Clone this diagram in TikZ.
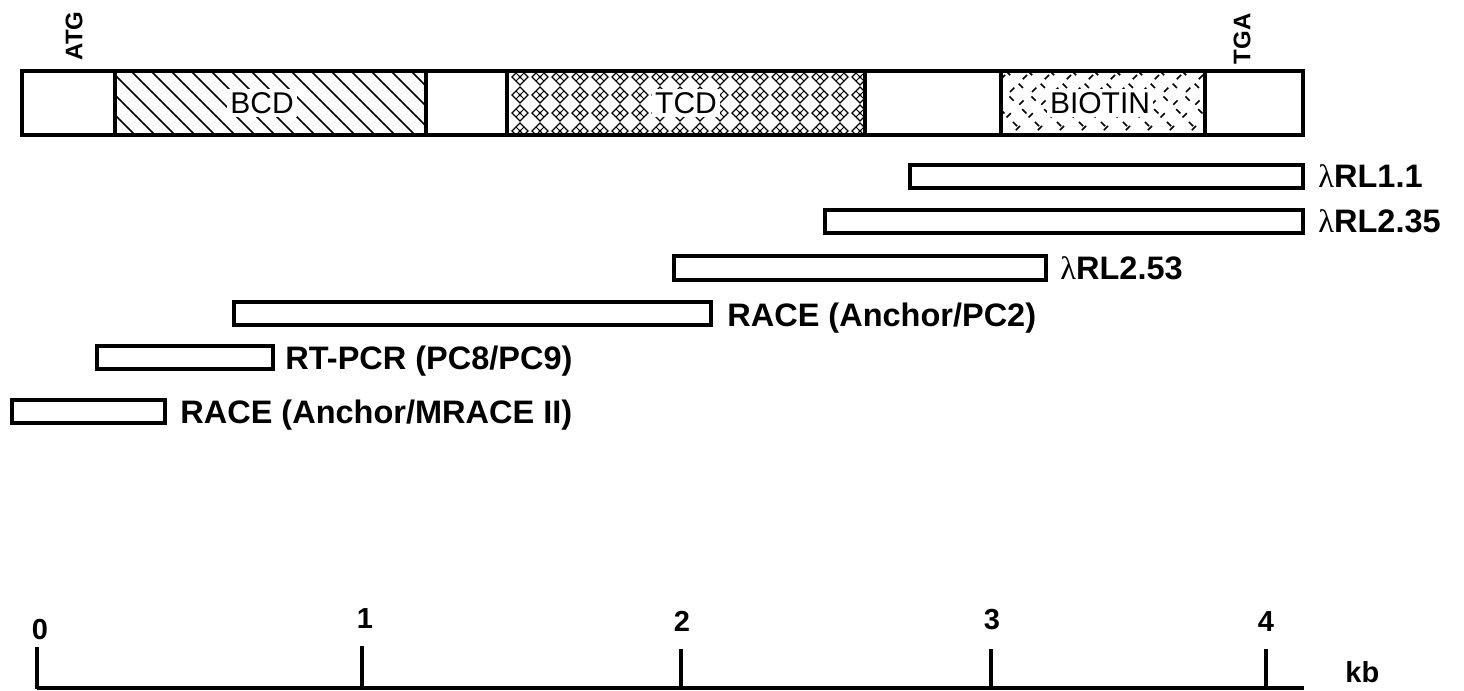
\documentclass[tikz,border=0pt]{standalone}
\usepackage{fontspec}
\setmainfont{Liberation Sans}
\newfontfamily\lamfont{Liberation Serif}
\begin{document}
\begin{tikzpicture}[x=0.5pt,y=-0.5pt,
  barline/.style={line width=2pt},
  clonebox/.style={line width=1.8pt},
  hatch/.style={line width=0.75pt},
  dhatch/.style={line width=0.8pt,dash pattern=on 3pt off 6pt},
  lbl/.style={font=\fontsize{16.25}{19}\selectfont\bfseries,anchor=base west,inner sep=0pt},
  domlbl/.style={font=\fontsize{15}{18}\selectfont,fill=white,inner sep=1.5pt},
  codon/.style={font=\fontsize{12}{14}\selectfont\bfseries,rotate=90,inner sep=0pt},
  scalelbl/.style={font=\fontsize{14.5}{17}\selectfont\bfseries,anchor=base,inner sep=0pt},
  tcddiam/.pic={
    \draw[line width=0.55pt] (-8,0) -- (0,-8) -- (8,0) -- (0,8) -- cycle;
    \draw[line width=0.4pt] (-4,-4) -- (4,4) (4,-4) -- (-4,4);
    \fill (0,0) circle (1.6);
  }]
\useasboundingbox (0,0) rectangle (1464,691);

% ---- BCD hatching
\begin{scope}
  \clip (115,71) rectangle (426,135);
  \foreach \i in {0,...,19} \draw[hatch] ({51+\i*20},71) -- ++(64,64);
\end{scope}
% ---- TCD diamonds
\begin{scope}
  \clip (507,71) rectangle (865,135);
  \foreach \cx in {520,540,...,860}
    \foreach \cy in {77,95,113,131}
      \pic at (\cx,\cy) {tcddiam};
\end{scope}
% ---- BIOTIN dashes
\begin{scope}
  \clip (1001,71) rectangle (1205,135);
  \foreach \i in {0,...,14} {
    \draw[dhatch] ({940+\i*22},71) -- ++(64,64);
    \draw[dhatch] ({1005+\i*22},75) -- ++(-64,64);
  }
\end{scope}

% ---- main bar
\draw[barline] (22,71) rectangle (1303,135);
\foreach \x in {115,426,507,865,1001,1205} \draw[barline] (\x,71) -- (\x,135);

\node[domlbl] (bcd) at (262,103) {BCD};
\node[domlbl] (tcd) at (686,103) {TCD};
\node[domlbl] (biotin) at (1100,103) {BIOTIN};

\node[codon] (atg) at (74,36) {ATG};
\node[codon] (tga) at (1242,39) {TGA};

% ---- clones
\draw[clonebox] (910,165) rectangle (1303,188);
\node[lbl] (rl11) at (1318,187) {{\lamfont\mdseries λ}RL1.1};
\draw[clonebox] (825,210) rectangle (1303,233);
\node[lbl] (rl235) at (1318,232) {{\lamfont\mdseries λ}RL2.35};
\draw[clonebox] (674,256) rectangle (1046,280);
\node[lbl] (rl253) at (1060,279) {{\lamfont\mdseries λ}RL2.53};
\draw[clonebox] (234,302) rectangle (711,325);
\node[lbl] (racepc2) at (727,326) {RACE (Anchor/PC2)};
\draw[clonebox] (97,346) rectangle (273,369);
\node[lbl] (rtpcr) at (285,369) {RT-PCR (PC8/PC9)};
\draw[clonebox] (12,400) rectangle (165,423);
\node[lbl] (racem) at (180,423) {RACE (Anchor/MRACE II)};

% ---- scale
\draw[line width=2pt] (37,688) -- (1304,688);
\draw[line width=1.8pt] (37,689) -- (37,647);
\draw[line width=1.8pt] (362,689) -- (362,646);
\draw[line width=1.8pt] (681,689) -- (681,649);
\draw[line width=1.8pt] (991,689) -- (991,649);
\draw[line width=1.8pt] (1266,689) -- (1266,649);
\node[scalelbl] (s0) at (40,639) {0};
\node[scalelbl] (s1) at (365,628) {1};
\node[scalelbl] (s2) at (682,631) {2};
\node[scalelbl] (s3) at (992,629) {3};
\node[scalelbl] (s4) at (1266,631) {4};
\node[scalelbl,anchor=base west] (kb) at (1345,682) {kb};
\end{tikzpicture}
\end{document}
